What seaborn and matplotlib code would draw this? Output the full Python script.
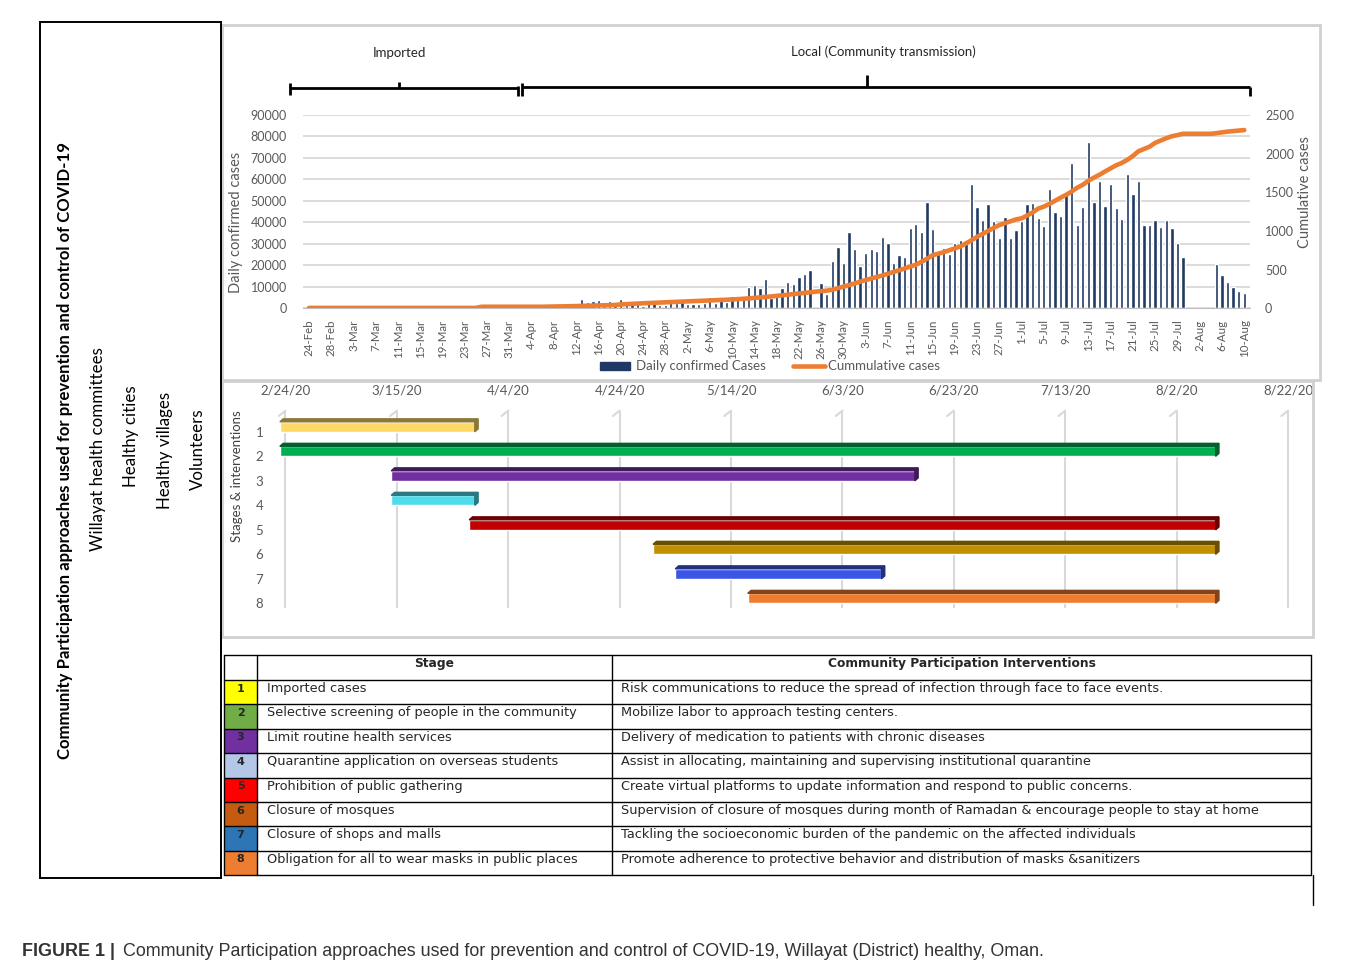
import numpy as np
import pandas as pd
import matplotlib
matplotlib.use("Agg")
import matplotlib.pyplot as plt
import matplotlib.colors as mcolors
from matplotlib.patches import Rectangle, Polygon
import seaborn as sns

# ---------------- data ----------------
# daily confirmed cases, one value per day 24-Feb .. 10-Aug 2020 (left axis)
daily = [0, 0, 0, 0, 0, 0, 0, 0, 0, 0, 0, 0, 0, 0, 0, 0, 0, 0, 0, 0, 0, 0,
         0, 0, 0, 0, 0, 0, 0, 0, 0, 0, 0, 0, 0, 0, 0, 0, 0, 0, 0, 0, 0,
         1500, 1800, 1200, 800, 2200, 2000, 4500, 3000, 3500, 4000, 1000,
         3400, 2300, 4300, 2600, 2800, 2800, 1000, 3400, 2600, 1500, 1500, 4500, 2600, 3000,
         2000, 2000, 2200, 2500, 5300, 2500, 4800, 2800, 5600, 5600, 4300,
         10000, 10900, 9600, 13600, 4600, 6200, 9600, 12400, 11200, 14400, 15800, 17700,
         0, 11600, 6500, 22000, 28500, 21000, 35700, 27600, 19800, 25700, 27400, 26800, 33000, 30500,
         21000, 25000, 24000, 37500, 39400, 35300, 49600, 36900, 26000, 28200, 25400, 30200, 32000, 32000,
         57700, 47100, 40900, 48700, 40600, 32900, 42600, 32600, 36300, 40600, 48700, 49000, 41900, 38300,
         55700, 45000, 42900, 54100, 67800, 38600, 47100, 77500, 49600, 59500, 47600, 58000, 46800, 41400,
         62300, 53300, 59200, 39000, 39000, 40900, 37800, 40900, 37500, 30200, 23900,
         0, 0, 0, 0, 0,
         20800, 15300, 12200, 10000, 8000, 7000]

# cumulative cases, same days (right axis)
cumulative = [5, 5, 5, 5, 5, 5, 5, 5, 5, 5, 5, 5, 5, 5, 5, 5, 5, 5, 5, 5, 5, 5, 5, 5, 5, 5, 5, 5, 5, 5, 5,
              20, 20, 20, 20, 20, 20, 20, 20, 20, 20, 20, 20,
              22, 23, 24, 25, 27, 29, 31, 33, 35, 37, 39, 41, 43,
              50, 54, 58, 62, 65, 68, 71, 74, 77, 80, 83, 86, 89, 92, 95,
              98, 101, 104, 107, 110, 114, 118, 123, 128, 134, 140, 146, 153, 160,
              168, 176, 183, 191, 199, 207, 215, 222, 228, 240, 260, 280,
              300, 320, 345, 365, 385, 405, 425, 447, 470, 492, 515, 540, 563, 600, 640,
              686, 705, 725, 750, 775, 800, 838, 880, 924, 962, 1000, 1040, 1076, 1100, 1125, 1150, 1163,
              1200, 1240, 1290, 1315, 1350, 1390, 1430, 1467, 1510, 1560, 1597, 1650, 1690, 1727, 1770,
              1810, 1850, 1880, 1920, 1970, 2031, 2060, 2090, 2140, 2170, 2200, 2225, 2240, 2257,
              2257, 2257, 2257, 2257, 2257,
              2265, 2275, 2285, 2292, 2300, 2305]

date_labels = ["24-Feb", "28-Feb", "3-Mar", "7-Mar", "11-Mar", "15-Mar", "19-Mar", "23-Mar",
               "27-Mar", "31-Mar", "4-Apr", "8-Apr", "12-Apr", "16-Apr", "20-Apr", "24-Apr",
               "28-Apr", "2-May", "6-May", "10-May", "14-May", "18-May", "22-May", "26-May",
               "30-May", "3-Jun", "7-Jun", "11-Jun", "15-Jun", "19-Jun", "23-Jun", "27-Jun",
               "1-Jul", "5-Jul", "9-Jul", "13-Jul", "17-Jul", "21-Jul", "25-Jul", "29-Jul",
               "2-Aug", "6-Aug", "10-Aug"]

# stages / interventions (gantt)
stage_ids = [1, 2, 3, 4, 5, 6, 7, 8]
stage_start = ["2020-02-23", "2020-02-23", "2020-03-14", "2020-03-14",
               "2020-03-28", "2020-04-30", "2020-05-04", "2020-05-17"]
stage_end = ["2020-03-29", "2020-08-09", "2020-06-16", "2020-03-29",
             "2020-08-09", "2020-08-09", "2020-06-10", "2020-08-09"]
gantt_colors = ["#FFD966", "#00B050", "#7030A0", "#4FDBEA",
                "#C00000", "#BF9000", "#3B55E6", "#ED7D31"]
gantt_ticks = ["2/24/20", "3/15/20", "4/4/20", "4/24/20", "5/14/20",
               "6/3/20", "6/23/20", "7/13/20", "8/2/20", "8/22/20"]

stages = ["Imported cases",
          "Selective screening of people in the community",
          "Limit routine health services",
          "Quarantine application on overseas students",
          "Prohibition of public gathering",
          "Closure of mosques",
          "Closure of shops and malls",
          "Obligation for all to wear masks in public places"]
interventions = ["Risk communications to reduce the spread of infection through face to face events.",
                 "Mobilize labor to approach testing centers.",
                 "Delivery of medication to patients with chronic diseases",
                 "Assist in allocating, maintaining and supervising institutional quarantine",
                 "Create virtual platforms to update information and respond to public concerns.",
                 "Supervision of closure of mosques during month of Ramadan & encourage people to stay at home",
                 "Tackling the socioeconomic burden of the pandemic on the affected individuals",
                 "Promote adherence to protective behavior and distribution of masks &sanitizers"]
table_colors = ["#FFFF00", "#70AD47", "#7030A0", "#B4C7E7",
                "#FF0000", "#C55A11", "#2E75B6", "#ED7D31"]

approaches = ["Willayat health committees", "Healthy cities", "Healthy villages", "Volunteers"]

# ---------------- figure ----------------
sns.set_style("white")
plt.rcParams["font.family"] = ["Lato", "DejaVu Sans"]
W, H = 1357, 972
fig = plt.figure(figsize=(W / 100, H / 100), dpi=100)
GREY = "#595959"


def px_axes(x0, y0, x1, y1):
    return fig.add_axes([x0 / W, 1 - y1 / H, (x1 - x0) / W, (y1 - y0) / H])


# ---- top chart: daily bars + cumulative line ----
ax1 = px_axes(303.4, 115, 1249.8, 308.3)
days = np.arange(len(daily))
sns.barplot(x=days, y=daily, native_scale=True, color="#1F3864", saturation=1,
            width=0.6, errorbar=None, ax=ax1)
ax1.set_xlim(-1, 169)
ax1.set_ylim(0, 90000)
ax1.set_yticks(range(0, 90001, 10000))
ax1.set_yticklabels([str(v) for v in range(0, 90001, 10000)])
ax1.set_xticks(range(0, 169, 4))
ax1.set_xticklabels(date_labels, rotation=90, fontsize=8.3, color=GREY)
ax1.set_xticks(np.arange(-0.5, 169, 4), minor=True)
ax1.tick_params(axis="x", which="major", length=0, pad=8)
ax1.tick_params(axis="x", which="minor", length=4, color="#BFBFBF", width=1)
ax1.tick_params(axis="y", length=0, pad=12, labelsize=9, labelcolor=GREY)
ax1.yaxis.grid(True, color="#D9D9D9", lw=1.3)
ax1.set_axisbelow(True)
for s in ["top", "left", "right"]:
    ax1.spines[s].set_visible(False)
ax1.spines["bottom"].set_color("#BFBFBF")
ax1.set_xlabel("")
ax1.set_ylabel("")

ax1b = ax1.twinx()
sns.lineplot(x=days, y=cumulative, color="#ED7D31", linewidth=3.3, ax=ax1b)
ax1b.set_ylim(0, 2500)
ax1b.set_xlim(-1, 169)
ax1b.set_yticks(range(0, 2501, 500))
ax1b.tick_params(axis="y", length=0, pad=11, labelsize=9, labelcolor=GREY)
for s in ax1b.spines.values():
    s.set_visible(False)
ax1b.set_ylabel("")

# ---- gantt chart ----
ax2 = px_axes(268.7, 405, 1310.3, 615)
t0 = pd.Timestamp("2020-02-24")
starts = np.array([(pd.Timestamp(s) - t0).days for s in stage_start], float)
ends = np.array([(pd.Timestamp(s) - t0).days for s in stage_end], float)
tick_days = np.arange(0, 181, 20)
ax2.set_xlim(-3, 184)
ax2.set_ylim(8.48, -0.09)
ax2.vlines(tick_days, 0.14, 8.2, color="#D9D9D9", lw=1.5, zorder=1)
for t in tick_days:
    ax2.plot([t, t - 1.2], [0.14, 0.36], color="#D9D9D9", lw=1.5, zorder=1)
bh, dx, dy = 0.41, 0.6, 0.12
for i, sid in enumerate(stage_ids):
    c = sid - 0.2
    col = gantt_colors[i]
    dark = tuple(np.array(mcolors.to_rgb(col)) * 0.55)
    ax2.barh(c, ends[i] - starts[i], left=starts[i], height=bh, color=col, zorder=3)
    top = c - bh / 2
    ax2.add_patch(Polygon([(starts[i], top), (ends[i], top), (ends[i] + dx, top - dy),
                           (starts[i] + dx, top - dy)], closed=True, color=dark, zorder=3))
    ax2.add_patch(Polygon([(ends[i], top), (ends[i], c + bh / 2), (ends[i] + dx, c + bh / 2 - dy),
                           (ends[i] + dx, top - dy)], closed=True, color=dark, zorder=3))
ax2.xaxis.tick_top()
ax2.set_xticks(tick_days)
ax2.set_xticklabels(gantt_ticks)
ax2.set_yticks(stage_ids)
ax2.set_yticklabels([str(s) for s in stage_ids])
ax2.tick_params(length=0, labelsize=9.5, labelcolor=GREY)
ax2.tick_params(axis="x", pad=6)
ax2.tick_params(axis="y", pad=4)
for s in ax2.spines.values():
    s.set_visible(False)
ax2.patch.set_alpha(0)

# ---- overlay for frames, brackets, table and texts ----
ov = fig.add_axes([0, 0, 1, 1])
ov.set_xlim(0, W)
ov.set_ylim(H, 0)
ov.axis("off")

# panel frames
ov.add_patch(Rectangle((222, 25), 1098, 355, fill=False, ec="#D0D0D0", lw=2))
ov.add_patch(Rectangle((222, 381), 1091, 256, fill=False, ec="#D0D0D0", lw=2))
ov.add_patch(Rectangle((40, 22), 181, 856, fill=False, ec="black", lw=1.4))
ov.plot([221, 221], [633, 655], color="black", lw=1.4)

# left box texts
ov.text(65, 450, "Community Participation approaches used for prevention and control of COVID-19",
        rotation=90, ha="center", va="center", fontsize=12.1, fontweight="bold", color="black")
for xx, yy, txt in zip([98, 131, 165, 198], [449, 436, 450, 449], approaches):
    ov.text(xx, yy, txt, rotation=90, ha="center", va="center", fontsize=12.2, color="black")

# axis titles
ov.text(236, 222, "Daily confirmed cases", rotation=90, ha="center", va="center",
        fontsize=10.5, color=GREY)
ov.text(1305, 192, "Cumulative cases", rotation=90, ha="center", va="center",
        fontsize=10.5, color=GREY)
ov.text(237, 476, "Stages & interventions", rotation=90, ha="center", va="center",
        fontsize=9.5, color="#404040")

# legend of top chart
ov.add_patch(Rectangle((600, 362), 30, 8, color="#1F3864"))
ov.text(636, 366, "Daily confirmed Cases", ha="left", va="center", fontsize=9.5, color=GREY)
ov.plot([793, 825], [366, 366], color="#ED7D31", lw=3.3)
ov.text(828, 366, "Cummulative cases", ha="left", va="center", fontsize=9.5, color=GREY)

# phase brackets
ov.text(399, 53, "Imported", ha="center", va="center", fontsize=9.5)
ov.text(883, 52, "Local (Community transmission)", ha="center", va="center", fontsize=9.5)
blk = dict(color="black", lw=2, solid_capstyle="butt")
ov.plot([290, 518], [88, 88], **blk)
ov.plot([290, 290], [83, 95], **blk)
ov.plot([518, 518], [86, 96], **blk)
ov.plot([399, 399], [82, 88], **blk)
ov.plot([522, 1250], [87, 87], **blk)
ov.plot([522, 522], [83, 96], **blk)
ov.plot([1250, 1250], [87, 96], **blk)
ov.plot([867, 867], [75, 87], **blk)

# table
tx0, tx1, tx2, tx3 = 224, 257, 612, 1311
ty = [655, 680] + [680 + 24.4 * (k + 1) for k in range(8)]
for k in range(8):
    ov.add_patch(Rectangle((tx0, ty[k + 1]), tx1 - tx0, ty[k + 2] - ty[k + 1],
                           color=table_colors[k], lw=0))
for yy in ty:
    ov.plot([tx0, tx3], [yy, yy], color="black", lw=1)
for xx in [tx0, tx1, tx2, tx3]:
    ov.plot([xx, xx], [ty[0], ty[-1]], color="black", lw=1)
ov.plot([tx3 + 2, tx3 + 2], [ty[-1], 905], color="black", lw=1)
ov.text((tx1 + tx2) / 2, 663, "Stage", ha="center", va="center", fontsize=8.8,
        fontweight="bold", family="DejaVu Sans")
ov.text((tx2 + tx3) / 2, 663, "Community Participation Interventions", ha="center",
        va="center", fontsize=8.8, fontweight="bold", family="DejaVu Sans")
for k in range(8):
    yy = ty[k + 1] + 8.5
    ov.text((tx0 + tx1) / 2, yy, str(stage_ids[k]), ha="center", va="center", fontsize=8,
            fontweight="bold", family="DejaVu Sans", color="#262626")
    ov.text(267, yy, stages[k], ha="left", va="center", fontsize=9.3,
            family="DejaVu Sans", color="#262626")
    ov.text(621, yy, interventions[k], ha="left", va="center", fontsize=9.3,
            family="DejaVu Sans", color="#262626")

# caption
ov.text(22, 951, "FIGURE 1 |", ha="left", va="center", fontsize=12.9, fontweight="bold",
        family="Liberation Sans", color="#333333")
ov.text(123, 951, "Community Participation approaches used for prevention and control of "
        "COVID-19, Willayat (District) healthy, Oman.", ha="left", va="center",
        fontsize=12.9, family="Liberation Sans", color="#333333")

fig.savefig("out.png", dpi=100)
